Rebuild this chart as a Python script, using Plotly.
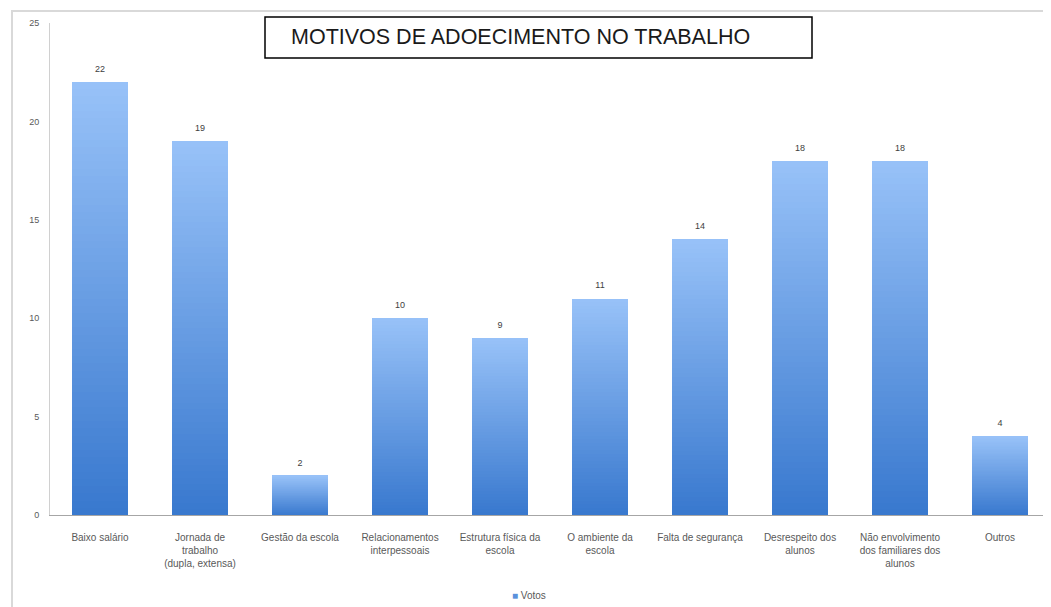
import plotly.graph_objects as go

# ---- data ----
categories = [
    "Baixo salário",
    "Jornada de<br>trabalho<br>(dupla, extensa)",
    "Gestão da escola",
    "Relacionamentos<br>interpessoais",
    "Estrutura física da<br>escola",
    "O ambiente da<br>escola",
    "Falta de segurança",
    "Desrespeito dos<br>alunos",
    "Não envolvimento<br>dos familiares dos<br>alunos",
    "Outros",
]
votos = [22, 19, 2, 10, 9, 11, 14, 18, 18, 4]
y_ticks = [0, 5, 10, 15, 20, 25]
series_name = "Votos"
title_text = "MOTIVOS DE ADOECIMENTO NO TRABALHO"

# ---- style ----
top_rgb = (152, 194, 248)
bottom_rgb = (56, 120, 206)
legend_color = "rgb(90,145,220)"
N_SEG = 60
label_color = "#595959"
font_family = "Liberation Sans, Arial, sans-serif"

# page body has an 8px default margin -> figure placed at (8, 8)
W, H = 1043, 599
ML, MR, MT, MB = 42, 1, 15, 92
PW = W - ML - MR          # plot width in px
PH = H - MT - MB          # plot height in px


def px_x(px):   # page pixel -> paper x
    return (px - 8 - ML) / PW


def px_y(py):   # page pixel -> paper y
    return (H - MB + 8 - py) / PH


fig = go.Figure()

# gradient bars: each bar split into N stacked slices (bottom -> top)
for k in range(N_SEG):
    t = (k + 0.5) / N_SEG
    r = round(bottom_rgb[0] + (top_rgb[0] - bottom_rgb[0]) * t)
    g = round(bottom_rgb[1] + (top_rgb[1] - bottom_rgb[1]) * t)
    b = round(bottom_rgb[2] + (top_rgb[2] - bottom_rgb[2]) * t)
    fig.add_trace(go.Bar(
        x=categories,
        y=[v / N_SEG for v in votos],
        name=series_name,
        marker=dict(color=f"rgb({r},{g},{b})", line=dict(width=0)),
        showlegend=False,
        hoverinfo="skip",
    ))

# value labels (invisible marker pushes text up)
fig.add_trace(go.Scatter(
    x=categories, y=votos, mode="markers+text",
    marker=dict(size=11, opacity=0),
    text=[str(v) for v in votos], textposition="top center",
    textfont=dict(size=9, color="#404040", family=font_family),
    showlegend=False, hoverinfo="skip",
))

fig.update_layout(
    width=W, height=H,
    margin=dict(l=ML, r=MR, t=MT, b=MB, autoexpand=False),
    paper_bgcolor="white", plot_bgcolor="white",
    barmode="stack", bargap=0.44,
    font=dict(family=font_family, color=label_color, size=10),
    showlegend=False,
    xaxis=dict(
        type="category", range=[-0.5, len(categories) - 0.5],
        showline=True, linecolor="#a6a6a6", linewidth=1,
        showgrid=False, ticks="outside", ticklen=13, tickcolor="rgba(0,0,0,0)",
        tickangle=0, tickfont=dict(size=10, color=label_color),
    ),
    yaxis=dict(
        range=[0, 25], tickvals=y_ticks, showline=True, linecolor="#d0d0d0", linewidth=1,
        showgrid=False, zeroline=False, ticks="outside", ticklen=8,
        tickcolor="rgba(0,0,0,0)", tickfont=dict(size=9, color=label_color),
    ),
    shapes=[
        # outer chart-area border
        dict(type="rect", xref="paper", yref="paper",
             x0=px_x(12), x1=px_x(1100), y0=px_y(700), y1=px_y(11),
             line=dict(color="#d9d9d9", width=2), layer="below"),
        # title box
        dict(type="rect", xref="paper", yref="paper",
             x0=px_x(265), x1=px_x(812), y0=px_y(58), y1=px_y(17),
             line=dict(color="black", width=1.5), fillcolor="white", layer="above"),
    ],
    annotations=[
        dict(text=title_text, xref="paper", yref="paper",
             x=px_x(289), y=px_y(37.5), xanchor="left", yanchor="middle",
             showarrow=False, font=dict(size=21.5, color="#1a1a1a", family=font_family)),
        # legend
        dict(text=f"<span style='color:{legend_color}'>■</span> {series_name}",
             xref="paper", yref="paper",
             x=px_x(510), y=px_y(595), xanchor="left", yanchor="middle",
             showarrow=False, font=dict(size=10, color=label_color, family=font_family)),
    ],
)

fig.write_html("out.html")
